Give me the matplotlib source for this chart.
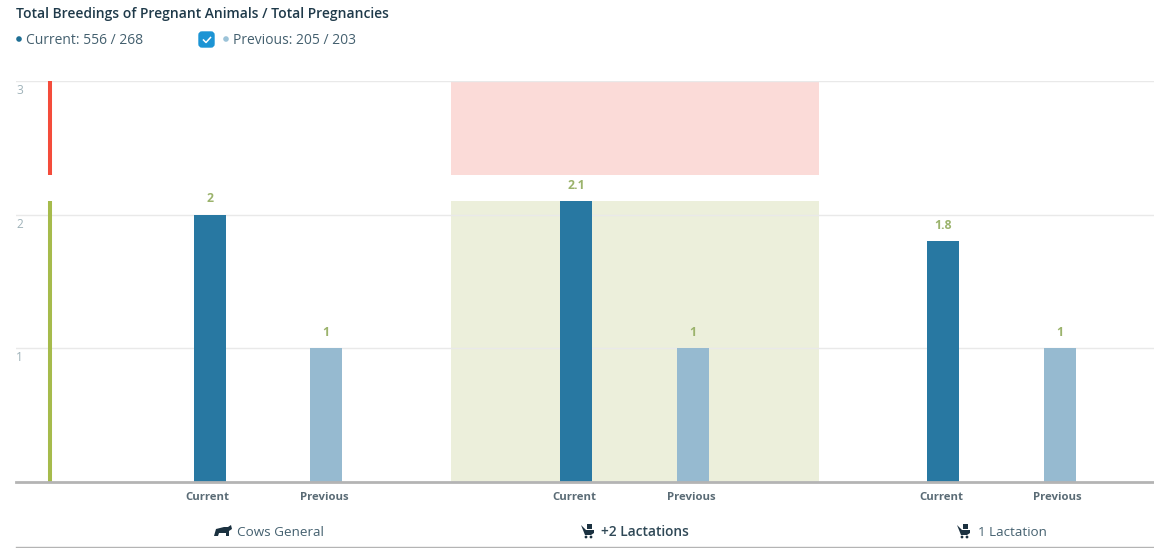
import matplotlib.pyplot as plt
from matplotlib.patches import Polygon, Circle, FancyBboxPatch, Rectangle

plt.rcParams['font.family'] = ['Open Sans', 'DejaVu Sans']

W, H = 1154, 548

groups = ['Cows General', '+2 Lactations', '1 Lactation']
current = [2, 2.1, 1.8]
previous = [1, 1, 1]
current_labels = ['2', '2.1', '1.8']
previous_labels = ['1', '1', '1']
yticks = [1, 2, 3]
green_band = [0, 2.1]
red_band = [2.3, 3]


def px(x, y):
    return x / W, 1 - y / H


fig = plt.figure(figsize=(W / 100, H / 100), dpi=100)
ax = fig.add_axes([16 / W, 1 - 482 / H, (W - 16) / W, 401 / H])
ax.set_xlim(-0.687, 2.416)
ax.set_ylim(0, 3)
ax.axis('off')

# target bands behind the middle group
ax.axhspan(green_band[0], green_band[1], xmin=(0.5 + 0.687) / 3.103, xmax=(1.502 + 0.687) / 3.103,
           color='#ecefdb', lw=0, zorder=0)
ax.axhspan(red_band[0], red_band[1], xmin=(0.5 + 0.687) / 3.103, xmax=(1.502 + 0.687) / 3.103,
           color='#fbdbd8', lw=0, zorder=0)

for v in yticks:
    ax.axhline(v, color='#e9e9e9', lw=1, zorder=1)
    ax.annotate(str(v), (0, v), xycoords=('axes fraction', 'data'), xytext=(0, -9.5),
                textcoords='offset pixels', fontsize=8.6, color='#9fb2b9', va='center', ha='left')

# threshold strip on the left
ax.plot([-0.5945, -0.5945], green_band, color='#a6bb4c', lw=2.9, solid_capstyle='butt', zorder=3)
ax.plot([-0.5945, -0.5945], red_band, color='#f44c3b', lw=2.9, solid_capstyle='butt', zorder=3)

offset = 0.159
width = 0.087
for i in range(len(groups)):
    ax.bar(i - offset, current[i], width, color='#2878a2', zorder=2)
    ax.bar(i + offset, previous[i], width, color='#96bad0', zorder=2)
    ax.annotate(current_labels[i], (i - offset, current[i]), xytext=(0, 16), textcoords='offset pixels',
                ha='center', va='center', fontsize=8.8, fontweight='bold', color='#9bb36c')
    ax.annotate(previous_labels[i], (i + offset, previous[i]), xytext=(0, 16), textcoords='offset pixels',
                ha='center', va='center', fontsize=8.8, fontweight='bold', color='#9bb36c')
    ax.annotate('Current', (i - offset, 0), xytext=(-2, -16), textcoords='offset pixels',
                ha='center', va='center', fontsize=8.2, fontweight='bold', color='#5a6b75')
    ax.annotate('Previous', (i + offset, 0), xytext=(-2, -16), textcoords='offset pixels',
                ha='center', va='center', fontsize=8.2, fontweight='bold', color='#5a6b75')

ax.axhline(0, color='#b4b4b4', lw=2, zorder=4, clip_on=False)

# header
fig.text(*px(16, 14), 'Total Breedings of Pregnant Animals / Total Pregnancies', fontsize=10,
         fontweight=600, color='#1f3a4a', va='center')
fig.text(*px(26, 40), 'Current: 556 / 268', fontsize=10, color='#44606f', va='center')
fig.text(*px(233, 40), 'Previous: 205 / 203', fontsize=10, color='#44606f', va='center')

over = fig.add_axes([0, 0, 1, 1])
over.set_xlim(0, W)
over.set_ylim(H, 0)
over.axis('off')
over.patch.set_alpha(0)
over.add_patch(Circle((19, 39), 2.8, color='#1f6f94', lw=0))
over.add_patch(Circle((226, 39), 2.8, color='#9cc3d8', lw=0))
over.add_patch(FancyBboxPatch((199, 32), 15, 15, boxstyle='round,pad=0,rounding_size=3',
                              fc='#1c94d4', ec='#1c94d4', lw=1))
over.plot([203.5, 206, 210.5], [40, 42.5, 37.5], color='white', lw=1.1)

# group labels with small icons
fig.text(*px(237, 532), groups[0], fontsize=9.7, color='#44606f', va='center')
fig.text(*px(601, 532), groups[1], fontsize=9.9, fontweight=600, color='#2f4856', va='center')
fig.text(*px(978, 532), groups[2], fontsize=9.6, color='#44606f', va='center')

over.add_patch(Polygon([(214, 536), (216, 529), (224, 527), (228, 527), (231, 525), (232, 529),
                        (229, 531), (229, 536), (226, 536), (226, 533), (219, 533), (218, 536)],
                       closed=True, color='#1b3140', lw=0))
for x0 in (581, 957):
    over.add_patch(Polygon([(x0, 525), (x0 + 5, 530), (x0 + 13, 530), (x0 + 13, 533), (x0 + 10, 535),
                            (x0 + 4, 535)], closed=True, color='#1b3140', lw=0))
    over.add_patch(Rectangle((x0 + 6, 524), 5, 5, color='#1b3140', lw=0))
    over.add_patch(Circle((x0 + 5, 537), 1.4, color='#1b3140', lw=0))
    over.add_patch(Circle((x0 + 10, 537), 1.4, color='#1b3140', lw=0))

over.plot([16, W], [547, 547], color='#b4b4b4', lw=1)

fig.savefig('out.png', dpi=100)
